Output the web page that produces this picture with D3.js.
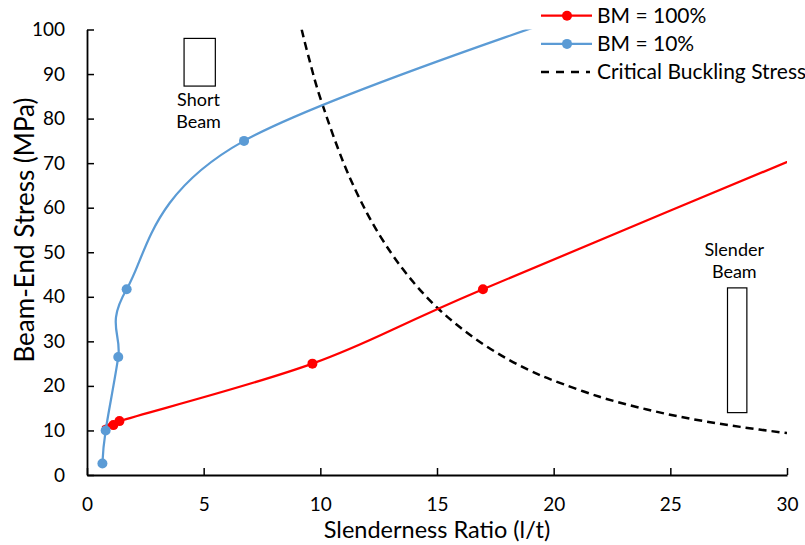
<!DOCTYPE html>
<html><head><meta charset="utf-8">
<script src="https://cdn.jsdelivr.net/npm/d3@7"></script>
<style>body{margin:0;background:#fff}svg{display:block}text{font-family:Lato,"Open Sans",sans-serif;fill:#000}</style>
</head><body><svg id="c" width="805" height="545"></svg>
<script>
// ---- data ----
const seriesNames = ["BM = 100%", "BM = 10%", "Critical Buckling Stress"];
const bm100X = [1.13, 1.39, 9.66, 16.97, 34];
const bm100Y = [11.2, 12.1, 25.0, 41.7, 79.0];
const bm100Markers = 4; // first 4 points visible as markers
const bm10X = [0.66, 0.80, 1.34, 1.70, 6.73, 26];
const bm10Y = [2.6, 10.0, 26.5, 41.7, 75.0, 112.5];
const bm10Markers = 5;
const critX = [9.2, 9.5, 10, 11, 12, 13, 14, 15, 16, 17, 18, 19, 20, 22, 24, 26, 28, 30];
const critY = [100, 93.8, 84.6, 70, 58.8, 50.1, 43.2, 37.6, 33.1, 29.3, 26.1, 23.4, 21.2, 17.5, 14.7, 12.5, 10.8, 9.4];
const xTicks = [0, 5, 10, 15, 20, 25, 30];
const yTicks = [0, 10, 20, 30, 40, 50, 60, 70, 80, 90, 100];
const annotations = [
  {lines: ["Short", "Beam"], x0: 4.16, x1: 5.5, y0: 87.3, y1: 98.0, textX: 4.78, textY: 82.8},
  {lines: ["Slender", "Beam"], x0: 27.45, x1: 28.28, y0: 14.0, y1: 42.0, textX: 27.74, textY: 49.1}
];

const svg = d3.select("#c");
const x = d3.scaleLinear().domain([0, 30]).range([87, 787]);
const y = d3.scaleLinear().domain([0, 100]).range([475, 29.5]);

svg.append("clipPath").attr("id", "plot").append("rect")
  .attr("x", x(0)).attr("y", y(100)).attr("width", x(30) - x(0)).attr("height", y(0) - y(100));

// axes
const xAxis = svg.append("g").attr("transform", `translate(0,${y(0)})`)
  .call(d3.axisBottom(x).tickValues(xTicks).tickSizeInner(-7).tickSizeOuter(0).tickPadding(23));
const yAxis = svg.append("g").attr("transform", `translate(${x(0)},0)`)
  .call(d3.axisLeft(y).tickValues(yTicks).tickSizeInner(-7).tickSizeOuter(0).tickPadding(22));
[xAxis, yAxis].forEach(g => {
  g.select(".domain").attr("stroke", "#000").attr("stroke-width", 1.8);
  g.selectAll(".tick line").attr("stroke", "#000").attr("stroke-width", 1.5);
  g.selectAll(".tick text").style("font-size", "19px").attr("fill", "#000");
});

// axis titles
svg.append("text").attr("x", 437).attr("y", 538).attr("text-anchor", "middle")
  .style("font-size", "23.5px").text("Slenderness Ratio (l/t)");
svg.append("text").attr("transform", "translate(34,230) rotate(-90)").attr("text-anchor", "middle")
  .style("font-size", "26px").text("Beam-End Stress (MPa)");

// annotations
annotations.forEach(a => {
  svg.append("rect").attr("x", x(a.x0)).attr("y", y(a.y1))
    .attr("width", x(a.x1) - x(a.x0)).attr("height", y(a.y0) - y(a.y1))
    .attr("fill", "none").attr("stroke", "#000").attr("stroke-width", 1.2);
  a.lines.forEach((t, i) => svg.append("text").attr("x", x(a.textX)).attr("y", y(a.textY) + i * 21.7)
    .attr("text-anchor", "middle").style("font-size", "18px").text(t));
});

const plot = svg.append("g").attr("clip-path", "url(#plot)");
const pts = (xs, ys) => xs.map((v, i) => [v, ys[i]]);
const line = d3.line().x(d => x(d[0])).y(d => y(d[1])).curve(d3.curveCatmullRom.alpha(0));

// critical buckling
plot.append("path").datum(pts(critX, critY)).attr("d", line)
  .attr("fill", "none").attr("stroke", "#000").attr("stroke-width", 2.5).attr("stroke-dasharray", "8,5");

const s100 = pts(bm100X, bm100Y), s10 = pts(bm10X, bm10Y);
plot.append("path").datum(s100).attr("d", line).attr("fill", "none").attr("stroke", "#FF0000").attr("stroke-width", 2.25);
plot.append("path").datum(s10).attr("d", line).attr("fill", "none").attr("stroke", "#5B9BD5").attr("stroke-width", 2.25);
plot.selectAll(".m100").data(s100.slice(0, bm100Markers)).join("circle")
  .attr("cx", d => x(d[0])).attr("cy", d => y(d[1])).attr("r", 5).attr("fill", "#FF0000");
plot.selectAll(".m10").data(s10.slice(0, bm10Markers)).join("circle")
  .attr("cx", d => x(d[0])).attr("cy", d => y(d[1])).attr("r", 5).attr("fill", "#5B9BD5");

// legend
const legColors = ["#FF0000", "#5B9BD5", "#000"];
seriesNames.forEach((n, i) => {
  const ly = 15.7 + i * 28.2;
  const g = svg.append("g");
  if (i < 2) {
    g.append("line").attr("x1", 541).attr("x2", 592).attr("y1", ly).attr("y2", ly)
      .attr("stroke", legColors[i]).attr("stroke-width", 2.25);
    g.append("circle").attr("cx", 567).attr("cy", ly).attr("r", 5).attr("fill", legColors[i]);
  } else {
    g.append("line").attr("x1", 541).attr("x2", 590).attr("y1", ly).attr("y2", ly)
      .attr("stroke", "#000").attr("stroke-width", 2.5).attr("stroke-dasharray", "8,7");
  }
  g.append("text").attr("x", 597).attr("y", ly).attr("dy", "0.35em").style("font-size", "21px").text(n);
});
</script></body></html>
